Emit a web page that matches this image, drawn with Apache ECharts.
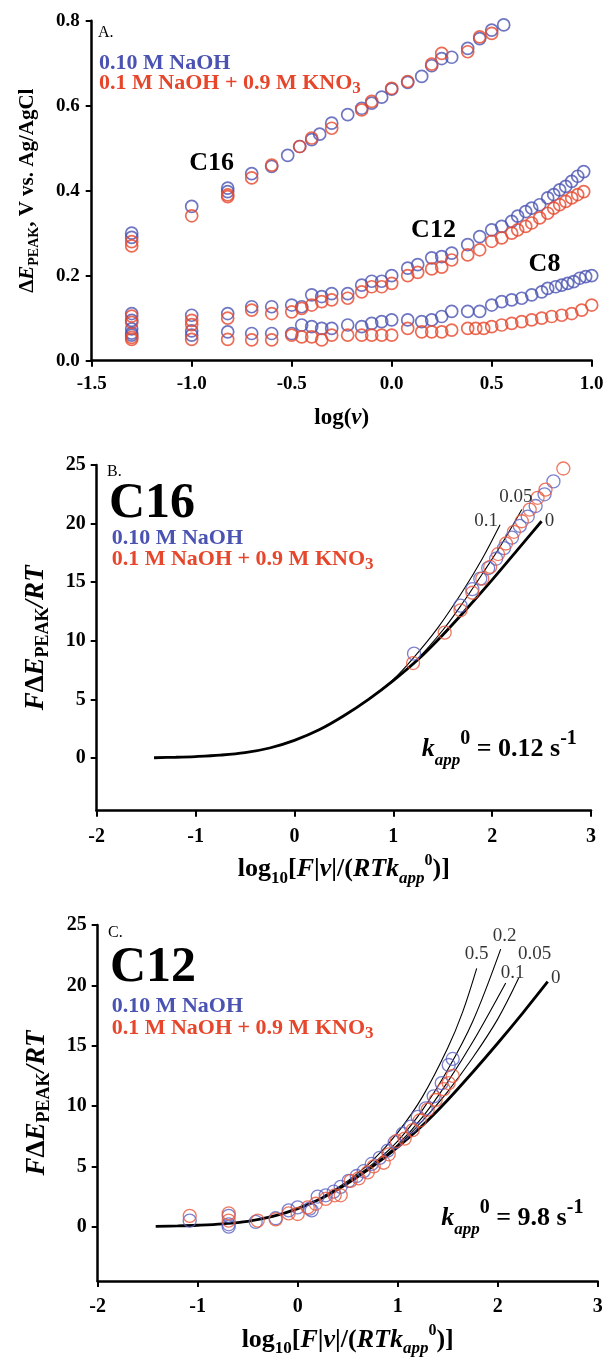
<!DOCTYPE html>
<html><head><meta charset="utf-8">
<script src="https://cdn.jsdelivr.net/npm/echarts@6/dist/echarts.min.js"></script>
<style>html,body{margin:0;padding:0;background:#fff}#c{width:607px;height:1370px}</style>
</head><body><div id="c"></div>
<script>
// ---------------- DATA ----------------
// Panel A: ΔE_PEAK (V) vs log(v)
const aC16BlueX = [-1.3,-1.3,-1.0,-0.82,-0.82,-0.7,-0.6,-0.52,-0.46,-0.4,-0.36,-0.3,-0.22,-0.15,-0.1,-0.05,0.0,0.08,0.15,0.2,0.25,0.3,0.38,0.44,0.5,0.56];
const aC16BlueY = [0.300,0.290,0.363,0.406,0.398,0.440,0.457,0.483,0.504,0.520,0.533,0.559,0.579,0.594,0.606,0.620,0.639,0.655,0.669,0.694,0.711,0.714,0.735,0.758,0.778,0.790];
const aC16RedX = [-1.3,-1.3,-1.0,-0.82,-0.82,-0.7,-0.6,-0.46,-0.4,-0.3,-0.15,-0.1,0.0,0.08,0.2,0.25,0.38,0.44,0.5];
const aC16RedY = [0.280,0.270,0.341,0.390,0.386,0.430,0.460,0.504,0.524,0.547,0.590,0.610,0.641,0.657,0.698,0.723,0.727,0.762,0.770];
const aC12BlueX = [-1.3,-1.3,-1.0,-0.82,-0.7,-0.6,-0.5,-0.45,-0.4,-0.35,-0.3,-0.22,-0.15,-0.1,-0.05,0.0,0.08,0.13,0.2,0.25,0.3,0.38,0.44,0.5,0.55,0.6,0.63,0.67,0.7,0.74,0.78,0.81,0.84,0.87,0.9,0.93,0.96];
const aC12BlueY = [0.111,0.095,0.107,0.111,0.127,0.127,0.131,0.127,0.155,0.151,0.158,0.158,0.178,0.187,0.187,0.200,0.218,0.226,0.242,0.245,0.253,0.273,0.292,0.308,0.316,0.328,0.340,0.351,0.359,0.367,0.383,0.391,0.402,0.410,0.422,0.434,0.445];
const aC12RedX = [-1.3,-1.3,-1.0,-1.0,-0.82,-0.7,-0.6,-0.5,-0.45,-0.4,-0.35,-0.3,-0.22,-0.15,-0.1,-0.05,0.0,0.08,0.13,0.2,0.25,0.3,0.38,0.44,0.5,0.55,0.6,0.63,0.67,0.7,0.74,0.78,0.81,0.84,0.87,0.9,0.93,0.96];
const aC12RedY = [0.105,0.090,0.095,0.085,0.100,0.119,0.111,0.115,0.123,0.131,0.139,0.143,0.147,0.162,0.174,0.174,0.182,0.200,0.208,0.216,0.220,0.237,0.249,0.261,0.281,0.289,0.300,0.308,0.316,0.324,0.336,0.347,0.359,0.367,0.375,0.383,0.391,0.398];
const aC8BlueX = [-1.3,-1.3,-1.3,-1.0,-1.0,-0.82,-0.7,-0.6,-0.5,-0.45,-0.4,-0.35,-0.3,-0.22,-0.15,-0.1,-0.05,0.0,0.08,0.15,0.2,0.25,0.3,0.38,0.44,0.5,0.55,0.6,0.65,0.7,0.75,0.78,0.82,0.85,0.88,0.91,0.94,0.97,1.0];
const aC8BlueY = [0.075,0.065,0.060,0.070,0.060,0.068,0.064,0.064,0.064,0.084,0.080,0.076,0.076,0.084,0.080,0.088,0.092,0.096,0.096,0.092,0.096,0.104,0.116,0.116,0.116,0.131,0.139,0.143,0.147,0.155,0.162,0.170,0.174,0.178,0.182,0.186,0.194,0.198,0.200];
const aC8RedX = [-1.3,-1.3,-1.0,-0.82,-0.7,-0.6,-0.5,-0.45,-0.4,-0.35,-0.3,-0.22,-0.15,-0.1,-0.05,0.0,0.08,0.15,0.2,0.25,0.3,0.38,0.42,0.46,0.5,0.55,0.6,0.65,0.7,0.75,0.8,0.85,0.9,0.95,1.0];
const aC8RedY = [0.055,0.050,0.050,0.050,0.049,0.049,0.060,0.056,0.056,0.049,0.060,0.060,0.060,0.060,0.060,0.060,0.076,0.068,0.068,0.068,0.072,0.076,0.076,0.076,0.080,0.084,0.088,0.092,0.096,0.100,0.104,0.107,0.111,0.119,0.131];

// Panel B (C16): working curves and data
const bCurve0X = [-1.42,-1.2,-1.0,-0.75,-0.5,-0.25,0,0.25,0.5,0.75,1.0,1.25,1.5,1.75,2.0,2.25,2.5];
const bCurve0Y = [0.02,0.06,0.12,0.24,0.45,0.85,1.5,2.4,3.6,5.0,6.6,8.4,10.5,12.8,15.2,17.7,20.2];
const bCurve01X = [0.75,1.0,1.2,1.45,1.7,1.9,2.08];
const bCurve01Y = [5.0,6.7,8.5,11.1,14.2,17.0,19.9];
const bCurve005X = [0.75,1.0,1.25,1.5,1.7,1.9,2.1,2.3];
const bCurve005Y = [5.0,6.6,8.5,10.9,13.2,15.7,18.3,21.2];
const bBlueX = [1.21,1.68,1.8,1.88,1.96,2.04,2.12,2.2,2.28,2.36,2.44,2.53,2.62];
const bBlueY = [8.9,13.0,14.4,15.3,16.2,17.0,17.9,18.8,19.8,20.6,21.5,22.5,23.6];
const bRedX = [1.2,1.52,1.68,1.8,1.9,1.98,2.06,2.14,2.22,2.3,2.38,2.46,2.54,2.72];
const bRedY = [8.1,10.7,12.6,14.1,15.3,16.3,17.4,18.3,19.3,20.2,21.2,22.2,22.9,24.7];

// Panel C (C12): working curves and data
const cCurve0X = [-1.42,-1.2,-1.0,-0.75,-0.5,-0.25,0,0.25,0.5,0.75,1.0,1.25,1.5,1.75,2.0,2.25,2.5];
const cCurve0Y = [0.02,0.06,0.12,0.24,0.45,0.85,1.5,2.4,3.6,5.0,6.6,8.4,10.5,12.8,15.2,17.7,20.3];
const cCurve05X = [0.25,0.5,0.75,1.0,1.25,1.5,1.65,1.79];
const cCurve05Y = [2.5,3.8,5.5,7.8,10.8,14.8,17.8,21.4];
const cCurve02X = [0.5,0.75,1.0,1.25,1.5,1.75,2.03];
const cCurve02Y = [3.7,5.2,7.1,9.7,13.0,17.0,23.0];
const cCurve01X = [0.75,1.0,1.25,1.5,1.75,2.08];
const cCurve01Y = [5.1,6.8,9.1,12.0,15.3,20.2];
const cCurve005X = [0.75,1.0,1.25,1.5,1.75,2.0,2.21];
const cCurve005Y = [5.0,6.7,8.8,11.2,14.0,17.2,20.6];
const cBlueX = [-1.08,-0.69,-0.69,-0.69,-0.42,-0.22,-0.09,0.0,0.12,0.14,0.2,0.28,0.36,0.43,0.51,0.59,0.66,0.74,0.82,0.9,0.97,1.05,1.13,1.2,1.28,1.36,1.44,1.51,1.55];
const cBlueY = [0.5,0.9,0.2,0.0,0.4,0.7,1.35,1.6,1.5,1.35,2.5,2.6,2.9,3.3,3.8,4.2,4.6,5.2,5.7,6.3,7.0,7.7,8.3,9.1,9.8,10.8,11.9,13.4,13.9];
const cRedX = [-1.08,-0.69,-0.69,-0.4,-0.22,-0.09,0.0,0.1,0.18,0.28,0.37,0.43,0.53,0.61,0.7,0.76,0.86,0.91,0.99,1.07,1.15,1.22,1.3,1.38,1.46,1.51,1.55];
const cRedY = [0.9,1.1,0.5,0.5,0.6,1.1,1.05,1.6,1.9,2.3,2.6,2.6,3.8,4.0,4.5,5.0,5.3,6.0,7.1,7.3,8.0,8.8,9.7,10.5,11.4,11.9,12.5];

// Tick values and texts
const abTickY = [0,5,10,15,20,25];
const legendBlue = '0.10 M NaOH';
const legendRed = '0.1 M NaOH + 0.9 M KNO';
const curveLabelsB = ['0.05','0.1','0'];
const curveLabelsC = ['0.5','0.2','0.05','0.1','0'];

// ---------------- STYLE / BUILD ----------------
const FF = 'Liberation Serif';
const BLUE = '#4a52b2', RED = '#e6462b';
const zip = (xs, ys) => xs.map((x, i) => [x, ys[i]]);

function sc(g, xs, ys, color, size, bw) {
  return {type:'scatter', xAxisIndex:g, yAxisIndex:g, data: zip(xs, ys), symbol:'circle', symbolSize:size,
    itemStyle:{color:'rgba(0,0,0,0)', borderColor:color, borderWidth:bw}, silent:true, z:3};
}
function ln(g, xs, ys, w) {
  return {type:'line', xAxisIndex:g, yAxisIndex:g, data: zip(xs, ys), symbol:'none', showSymbol:false, smooth:0.35,
    lineStyle:{color:'#000', width:w}, silent:true, z:2};
}
function lab(g, texts, pos) {
  return {type:'scatter', xAxisIndex:g, yAxisIndex:g, symbolSize:1, itemStyle:{color:'rgba(0,0,0,0)'}, silent:true, z:4,
    data: texts.map((t, i) => ({value:[pos[i][0], pos[i][1]], name:t})),
    label:{show:true, position:'inside', formatter:p => p.name, fontFamily:FF, fontSize:19, color:'#000'}};
}

const tickLabel = (fs) => ({fontFamily:FF, fontWeight:'bold', fontSize:fs, color:'#000'});
const axLine = {show:true, onZero:false, lineStyle:{color:'#000', width:2.5}};
const axTick = {show:true, inside:false, length:6, lineStyle:{color:'#000', width:2}};

// for axis names (ECharts text style)
const B = (o) => Object.assign({fontFamily:FF, fontWeight:'bold', color:'#000'}, o);
// for graphic rich tokens (zrender style)
const G = (o) => Object.assign({fontFamily:FF, fontWeight:'bold', fill:'#000'}, o);

const xTitleRich = {
  m: B({fontSize:26, lineHeight:34, verticalAlign:'middle'}),
  i: B({fontSize:26, fontStyle:'italic', lineHeight:34, verticalAlign:'middle'}),
  s: B({fontSize:17, lineHeight:14, verticalAlign:'bottom'}),
  si: B({fontSize:17, fontStyle:'italic', lineHeight:14, verticalAlign:'bottom'}),
  p: B({fontSize:16, lineHeight:14, verticalAlign:'top'})
};
const xTitleText = '{m|log}{s|10}{m|[}{i|F}{m||}{i|v}{m||/(}{i|RTk}{si|app}{p|0}{m|)]}';
const yTitleBC = '{i|F}{m|Δ}{i|E}{s|PEAK}{i|/RT}';
const yRichBC = {
  m: B({fontSize:27, lineHeight:34, verticalAlign:'middle'}),
  i: B({fontSize:27, fontStyle:'italic', lineHeight:34, verticalAlign:'middle'}),
  s: B({fontSize:18, lineHeight:14, verticalAlign:'bottom'})
};

function kText(val) {
  return {
    text: '{k|k}{s|app}{p|0}{m| = ' + val + ' s}{q|-1}',
    rich: {
      k: G({fontSize:26, fontStyle:'italic', lineHeight:40, verticalAlign:'middle'}),
      s: G({fontSize:17, fontStyle:'italic', lineHeight:10, verticalAlign:'bottom'}),
      p: G({fontSize:20, lineHeight:20, verticalAlign:'top'}),
      m: G({fontSize:26, lineHeight:40, verticalAlign:'middle'}),
      q: G({fontSize:20, lineHeight:24, verticalAlign:'top'})
    }
  };
}
function legendRedText() {
  return {
    text: '{a|' + legendRed + '}{b|3}',
    rich: {
      a: G({fontSize:22, fill:RED, lineHeight:28, verticalAlign:'middle'}),
      b: G({fontSize:17, fill:RED, lineHeight:12, verticalAlign:'bottom'})
    }
  };
}
function txt(x, y, style) {
  return {type:'text', x:x, y:y, silent:true, z:10,
    style: Object.assign({align:'left', verticalAlign:'middle', fill:'#000'}, style)};
}

const option = {
  animation:false,
  backgroundColor:'#fff',
  grid:[
    {left:91.7, top:20.7, width:500, height:340},
    {left:96.7, top:465, width:494.3, height:345.7},
    {left:97.7, top:925, width:500, height:356}
  ],
  xAxis:[
    {gridIndex:0, type:'value', min:-1.5, max:1.0, interval:0.5, splitLine:{show:false},
      axisLine:axLine, axisTick:axTick,
      axisLabel:Object.assign(tickLabel(19), {margin:14, formatter:v => v.toFixed(1)}),
      name:'{m|log(}{i|ν}{m|)}', nameLocation:'middle', nameGap:46,
      nameTextStyle:{rich:{m:B({fontSize:23}), i:B({fontSize:23, fontStyle:'italic'})}}},
    {gridIndex:1, type:'value', min:-2, max:3, interval:1, splitLine:{show:false},
      axisLine:axLine, axisTick:axTick,
      axisLabel:Object.assign(tickLabel(20), {margin:16}),
      name:xTitleText, nameLocation:'middle', nameGap:42, nameTextStyle:{rich:xTitleRich}},
    {gridIndex:2, type:'value', min:-2, max:3, interval:1, splitLine:{show:false},
      axisLine:axLine, axisTick:axTick,
      axisLabel:Object.assign(tickLabel(20), {margin:16}),
      name:xTitleText, nameLocation:'middle', nameGap:42, nameTextStyle:{rich:xTitleRich}}
  ],
  yAxis:[
    {gridIndex:0, type:'value', min:0, max:0.8, interval:0.2, splitLine:{show:false},
      axisLine:axLine, axisTick:axTick,
      axisLabel:Object.assign(tickLabel(19), {margin:12, formatter:v => v.toFixed(1)}),
      name:'{m|Δ}{i|E}{s|PEAK}{m|, V vs. Ag/AgCl}', nameLocation:'middle', nameGap:50, nameRotate:90,
      nameTextStyle:{rich:{
        m:B({fontSize:21, lineHeight:28, verticalAlign:'middle'}),
        i:B({fontSize:21, fontStyle:'italic', lineHeight:28, verticalAlign:'middle'}),
        s:B({fontSize:14, lineHeight:14, verticalAlign:'bottom'})}}},
    {gridIndex:1, type:'value', min:-4.5, max:25, splitLine:{show:false},
      axisLine:axLine, axisTick:Object.assign({}, axTick, {customValues:abTickY}),
      axisLabel:Object.assign(tickLabel(20), {margin:11, customValues:abTickY}),
      name:yTitleBC, nameLocation:'middle', nameGap:44, nameRotate:90, nameTextStyle:{rich:yRichBC}},
    {gridIndex:2, type:'value', min:-4.5, max:25, splitLine:{show:false},
      axisLine:axLine, axisTick:Object.assign({}, axTick, {customValues:abTickY}),
      axisLabel:Object.assign(tickLabel(20), {margin:11, customValues:abTickY}),
      name:yTitleBC, nameLocation:'middle', nameGap:44, nameRotate:90, nameTextStyle:{rich:yRichBC}}
  ],
  series:[
    sc(0, aC16BlueX, aC16BlueY, BLUE, 12, 1.7),
    sc(0, aC12BlueX, aC12BlueY, BLUE, 12, 1.7),
    sc(0, aC8BlueX, aC8BlueY, BLUE, 12, 1.7),
    sc(0, aC16RedX, aC16RedY, RED, 12, 1.7),
    sc(0, aC12RedX, aC12RedY, RED, 12, 1.7),
    sc(0, aC8RedX, aC8RedY, RED, 12, 1.7),

    ln(1, bCurve0X, bCurve0Y, 2.8),
    ln(1, bCurve01X, bCurve01Y, 1.1),
    ln(1, bCurve005X, bCurve005Y, 1.1),
    sc(1, bBlueX, bBlueY, '#5a62c0', 13, 1.3),
    sc(1, bRedX, bRedY, '#e8563a', 13, 1.3),
    lab(1, curveLabelsB, [[2.24,22.3],[1.94,20.2],[2.58,20.2]]),

    ln(2, cCurve0X, cCurve0Y, 2.8),
    ln(2, cCurve05X, cCurve05Y, 1.1),
    ln(2, cCurve02X, cCurve02Y, 1.1),
    ln(2, cCurve01X, cCurve01Y, 1.1),
    ln(2, cCurve005X, cCurve005Y, 1.1),
    sc(2, cBlueX, cBlueY, '#5a62c0', 13, 1.3),
    sc(2, cRedX, cRedY, '#e8563a', 13, 1.3),
    lab(2, curveLabelsC, [[1.79,22.6],[2.07,24.1],[2.37,22.6],[2.15,21.0],[2.58,20.6]])
  ],
  graphic:[
    // Panel A
    txt(98, 33, {text:'A.', font:'16px "Liberation Serif"'}),
    txt(99, 63, {text:legendBlue, font:'bold 22px "Liberation Serif"', fill:BLUE}),
    txt(99, 83, legendRedText()),
    txt(211.7, 163, {text:'C16', font:'bold 26px "Liberation Serif"', align:'center'}),
    txt(433.5, 230, {text:'C12', font:'bold 26px "Liberation Serif"', align:'center'}),
    txt(544.5, 264, {text:'C8', font:'bold 26px "Liberation Serif"', align:'center'}),
    // Panel B
    txt(107, 472, {text:'B.', font:'16px "Liberation Serif"'}),
    txt(109, 504, {text:'C16', font:'bold 50px "Liberation Serif"'}),
    txt(111.7, 538, {text:legendBlue, font:'bold 22px "Liberation Serif"', fill:BLUE}),
    txt(111.7, 559, legendRedText()),
    txt(421.7, 749, kText('0.12')),
    // Panel C
    txt(108, 933, {text:'C.', font:'16px "Liberation Serif"'}),
    txt(110, 968, {text:'C12', font:'bold 50px "Liberation Serif"'}),
    txt(111.7, 1006.7, {text:legendBlue, font:'bold 22px "Liberation Serif"', fill:BLUE}),
    txt(111.7, 1028, legendRedText()),
    txt(441.3, 1218, kText('9.8'))
  ]
};

const chart = echarts.init(document.getElementById('c'), null, {renderer:'canvas'});
chart.setOption(option);
</script></body></html>
